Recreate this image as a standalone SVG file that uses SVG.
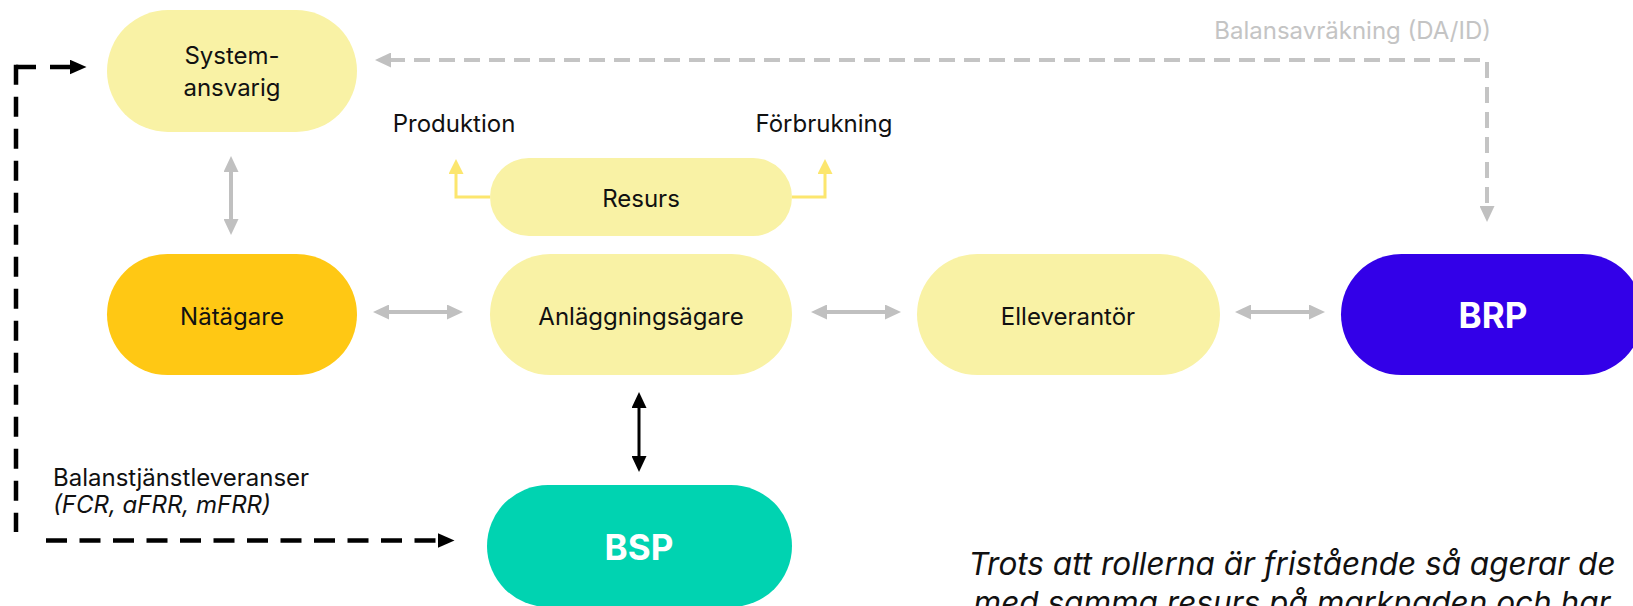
<svg xmlns="http://www.w3.org/2000/svg" width="1633" height="606" viewBox="0 0 1633 606">
  <style>
    .lbl { font-family: Inter, "Noto Sans", "Liberation Sans", sans-serif; font-size: 24px; fill: #111111; text-anchor: middle; dominant-baseline: central; }
    .big { font-family: Inter, "Noto Sans", "Liberation Sans", sans-serif; font-size: 35px; font-weight: 700; fill: #ffffff; text-anchor: middle; dominant-baseline: central; }
    .note { font-family: Inter, "Noto Sans", "Liberation Sans", sans-serif; font-size: 24px; fill: #111111; dominant-baseline: central; }
    .quote { font-family: Inter, "Noto Sans", "Liberation Sans", sans-serif; font-size: 31.5px; font-style: italic; fill: #111111; text-anchor: middle; }
    .yellow { fill: #f9f2a5; }
    .gray-link { fill: none; stroke: #c0c0c0; stroke-width: 4; }
    .black-dash { fill: none; stroke: #000000; stroke-width: 4.5; }
  </style>
  <defs>
    <marker id="ah-gray" viewBox="0 0 16 15" refX="2" refY="7.5" markerWidth="16" markerHeight="15" markerUnits="userSpaceOnUse" orient="auto-start-reverse">
      <path d="M0,0 L16,7.5 L0,15 z" fill="#c0c0c0"/>
    </marker>
    <marker id="ah-black" viewBox="0 0 16 15" refX="2" refY="7.5" markerWidth="16" markerHeight="15" markerUnits="userSpaceOnUse" orient="auto-start-reverse">
      <path d="M0,0 L16,7.5 L0,15 z" fill="#000000"/>
    </marker>
    <marker id="ah-black-dash" viewBox="0 0 17 15" refX="0.5" refY="7.5" markerWidth="17" markerHeight="15" markerUnits="userSpaceOnUse" orient="auto">
      <path d="M0,0 L17,7.5 L0,15 z" fill="#000000"/>
    </marker>
    <marker id="ah-yellow" viewBox="0 0 15 15" refX="2" refY="7.5" markerWidth="15" markerHeight="15" markerUnits="userSpaceOnUse" orient="auto">
      <path d="M0,0 L15,7.5 L0,15 z" fill="#fce66e"/>
    </marker>
  </defs>
  <rect width="1633" height="606" fill="#ffffff"/>

  <!-- connectors -->
  <g id="connectors">
    <!-- settlement: BRP up and over to Systemansvarig -->
    <path d="M389 60 H1487 V208" fill="none" stroke="#c4c4c4" stroke-width="4" stroke-dasharray="16 9" marker-start="url(#ah-gray)" marker-end="url(#ah-gray)"/>
    <!-- balancing services loop: top branch, left rail, bottom branch -->
    <path class="black-dash" d="M16 67 H70" stroke-dasharray="20 14" marker-end="url(#ah-black-dash)"/>
    <path class="black-dash" d="M16 64.75 V532" stroke-dasharray="20 12"/>
    <path class="black-dash" d="M46 540.5 H438" stroke-dasharray="21 12.5" marker-end="url(#ah-black-dash)"/>
    <!-- grey two-way links -->
    <line class="gray-link" x1="231" y1="170" x2="231" y2="221" marker-start="url(#ah-gray)" marker-end="url(#ah-gray)"/>
    <line class="gray-link" x1="387" y1="312" x2="449" y2="312" marker-start="url(#ah-gray)" marker-end="url(#ah-gray)"/>
    <line class="gray-link" x1="825" y1="312" x2="887" y2="312" marker-start="url(#ah-gray)" marker-end="url(#ah-gray)"/>
    <line class="gray-link" x1="1249" y1="312" x2="1311" y2="312" marker-start="url(#ah-gray)" marker-end="url(#ah-gray)"/>
    <!-- Anläggningsägare to BSP -->
    <line x1="639" y1="406" x2="639" y2="458" stroke="#000000" stroke-width="3" marker-start="url(#ah-black)" marker-end="url(#ah-black)"/>
    <!-- Resurs outputs -->
    <path d="M490 197 H456 V172" fill="none" stroke="#fce66e" stroke-width="3" marker-end="url(#ah-yellow)"/>
    <path d="M792 197 H825 V172" fill="none" stroke="#fce66e" stroke-width="3" marker-end="url(#ah-yellow)"/>
  </g>

  <!-- nodes -->
  <g id="systemansvarig">
    <rect class="yellow" x="107" y="10" width="250" height="122" rx="61"/>
    <text class="lbl" x="232" y="55">System-</text>
    <text class="lbl" x="232" y="87">ansvarig</text>
  </g>
  <g id="resurs">
    <rect class="yellow" x="490" y="158" width="302" height="78" rx="39"/>
    <text class="lbl" x="641" y="198">Resurs</text>
  </g>
  <g id="natagare">
    <rect x="107" y="254" width="250" height="121" rx="60.5" fill="#ffc814"/>
    <text class="lbl" x="232" y="316">Nätägare</text>
  </g>
  <g id="anlaggningsagare">
    <rect class="yellow" x="490" y="254" width="302" height="121" rx="60.5"/>
    <text class="lbl" x="641" y="316">Anläggningsägare</text>
  </g>
  <g id="elleverantor">
    <rect class="yellow" x="917" y="254" width="303" height="121" rx="60.5"/>
    <text class="lbl" x="1068" y="316">Elleverantör</text>
  </g>
  <g id="brp">
    <rect x="1341" y="254" width="302" height="121" rx="60.5" fill="#3300e8"/>
    <text class="big" x="1493" y="315">BRP</text>
  </g>
  <g id="bsp">
    <rect x="487" y="485" width="305" height="122" rx="61" fill="#00d3b1"/>
    <text class="big" x="639" y="547">BSP</text>
  </g>

  <!-- free labels -->
  <g id="labels">
    <text class="note" x="454" y="123" text-anchor="middle">Produktion</text>
    <text class="note" x="824" y="123" text-anchor="middle">Förbrukning</text>
    <text class="note" x="1491" y="30" text-anchor="end" style="fill:#c4c4c4">Balansavräkning (DA/ID)</text>
    <text class="note" x="53" y="477">Balanstjänstleveranser</text>
    <text class="note" x="53" y="504" font-style="italic">(FCR, aFRR, mFRR)</text>
    <text class="quote" x="1292" y="575">Trots att rollerna är fristående så agerar de</text>
    <text class="quote" x="1292" y="614">med samma resurs på marknaden och har</text>
  </g>
</svg>
